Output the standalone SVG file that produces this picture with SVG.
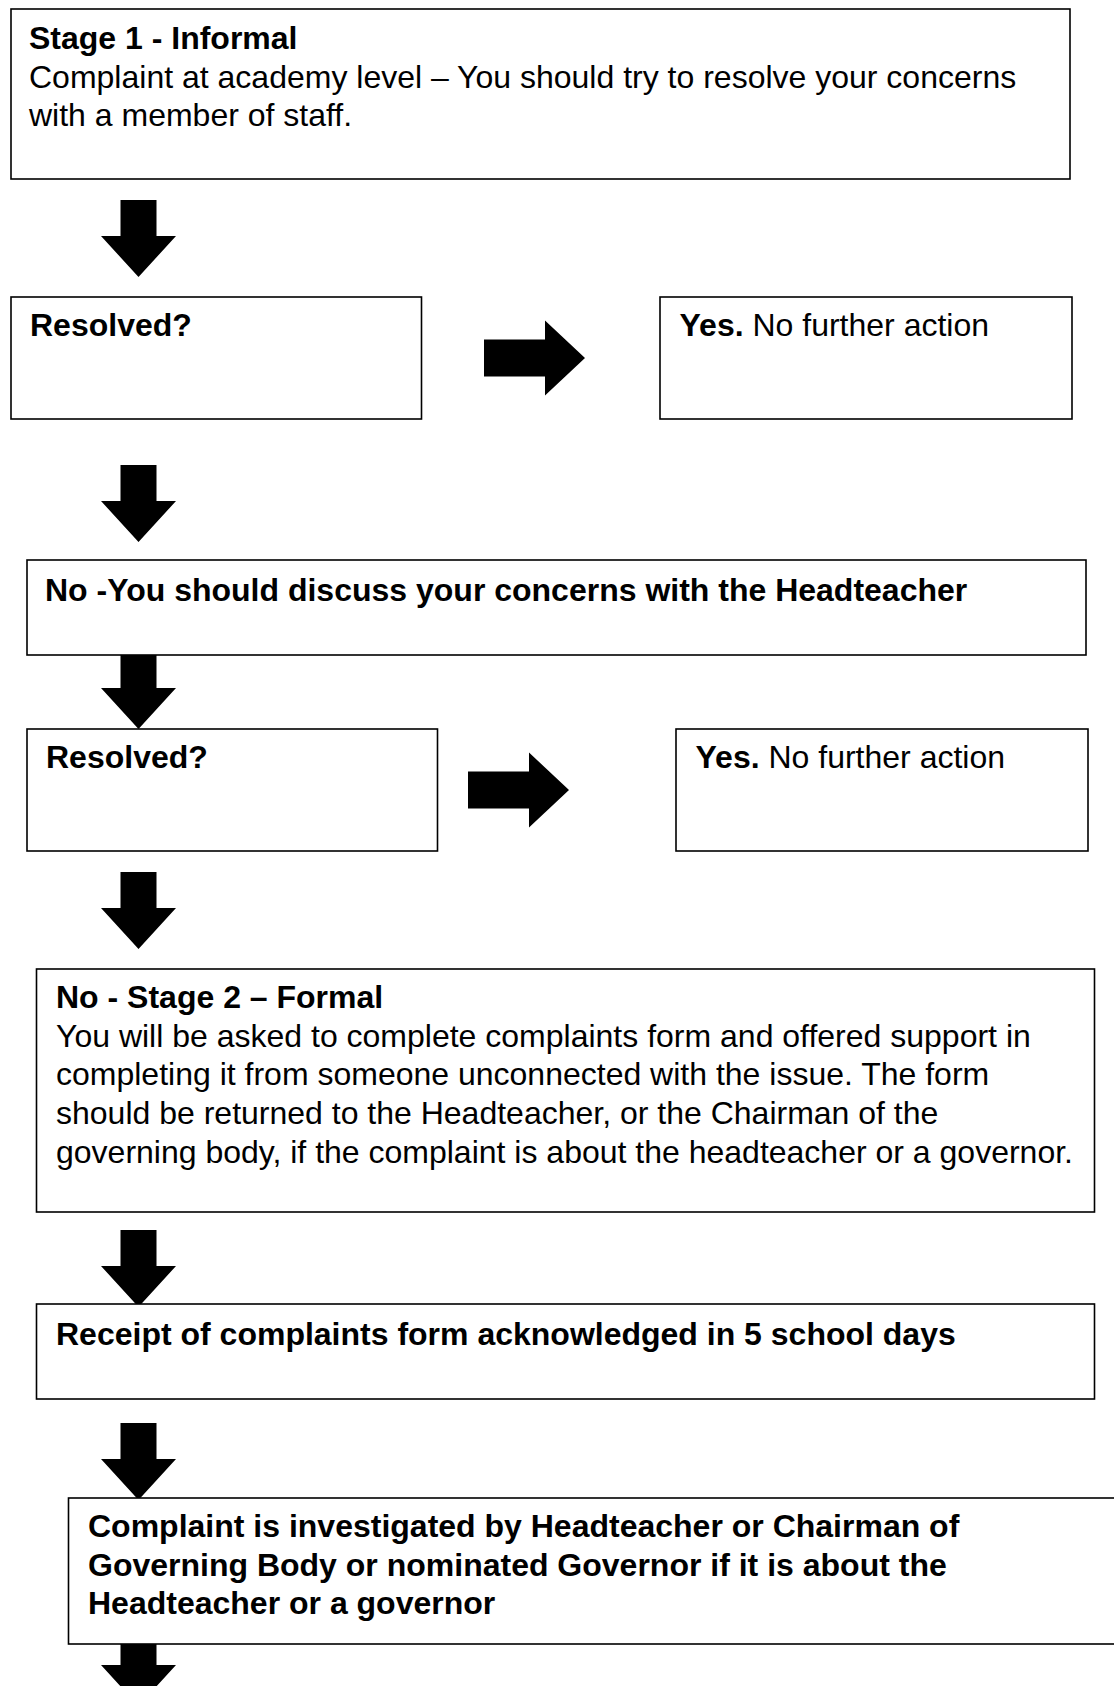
<svg xmlns="http://www.w3.org/2000/svg" width="1114" height="1686" viewBox="0 0 1114 1686">
<defs>
<style>
.box{fill:#fff;stroke:#000;stroke-width:1.6}
.t{font-family:"Liberation Sans",Arial,sans-serif;font-size:32px;fill:#000}
.b{font-weight:bold}
.arr{fill:#000}
</style>
<polygon id="down" points="-18,0 18,0 18,36 37.5,36 0,77 -37.5,36 -18,36"/>
<polygon id="right" points="0,-18.5 61,-18.5 61,-37.5 101,0 61,37.5 61,18.5 0,18.5"/>
</defs>
<rect width="1114" height="1686" fill="#fff"/>
<g id="connectors" class="arr">
<use href="#down" x="138.5" y="200"/>
<use href="#right" x="484" y="358"/>
<use href="#down" x="138.5" y="465"/>
<use href="#down" x="138.5" y="652"/>
<use href="#right" x="468" y="790"/>
<use href="#down" x="138.5" y="872"/>
<use href="#down" x="138.5" y="1230"/>
<use href="#down" x="138.5" y="1423"/>
<use href="#down" x="138.5" y="1629"/>
</g>
<g id="stage1">
<rect class="box" x="11" y="9" width="1059" height="170"/>
<text class="t b" x="29" y="49">Stage 1 - Informal</text>
<text class="t" x="29" y="87.7">Complaint at academy level – You should try to resolve your concerns</text>
<text class="t" x="29" y="126.4">with a member of staff.</text>
</g>
<g id="resolved1">
<rect class="box" x="11" y="297" width="410.5" height="122"/>
<text class="t b" x="30" y="336">Resolved?</text>
</g>
<g id="yes1">
<rect class="box" x="660" y="297" width="412" height="122"/>
<text class="t" x="679.5" y="336"><tspan class="b">Yes.</tspan> No further action</text>
</g>
<g id="no-headteacher">
<rect class="box" x="27" y="560" width="1059" height="95"/>
<text class="t b" x="45" y="600.5">No -You should discuss your concerns with the Headteacher</text>
</g>
<g id="resolved2">
<rect class="box" x="27" y="729" width="410.5" height="122"/>
<text class="t b" x="46" y="768">Resolved?</text>
</g>
<g id="yes2">
<rect class="box" x="676" y="729" width="412" height="122"/>
<text class="t" x="695.5" y="768"><tspan class="b">Yes.</tspan> No further action</text>
</g>
<g id="stage2">
<rect class="box" x="36.5" y="969" width="1058" height="243"/>
<text class="t b" x="56" y="1008">No - Stage 2 – Formal</text>
<text class="t" x="56" y="1046.7">You will be asked to complete complaints form and offered support in</text>
<text class="t" x="56" y="1085.4">completing it from someone unconnected with the issue. The form</text>
<text class="t" x="56" y="1124.1">should be returned to the Headteacher, or the Chairman of the</text>
<text class="t" x="56" y="1162.8">governing body, if the complaint is about the headteacher or a governor.</text>
</g>
<g id="receipt">
<rect class="box" x="36.5" y="1304" width="1058" height="95"/>
<text class="t b" x="56" y="1344.6">Receipt of complaints form acknowledged in 5 school days</text>
</g>
<g id="investigation">
<rect class="box" x="68.5" y="1498" width="1100" height="146"/>
<text class="t b" x="88" y="1537">Complaint is investigated by Headteacher or Chairman of</text>
<text class="t b" x="88" y="1575.7">Governing Body or nominated Governor if it is about the</text>
<text class="t b" x="88" y="1614.4">Headteacher or a governor</text>
</g>
</svg>
